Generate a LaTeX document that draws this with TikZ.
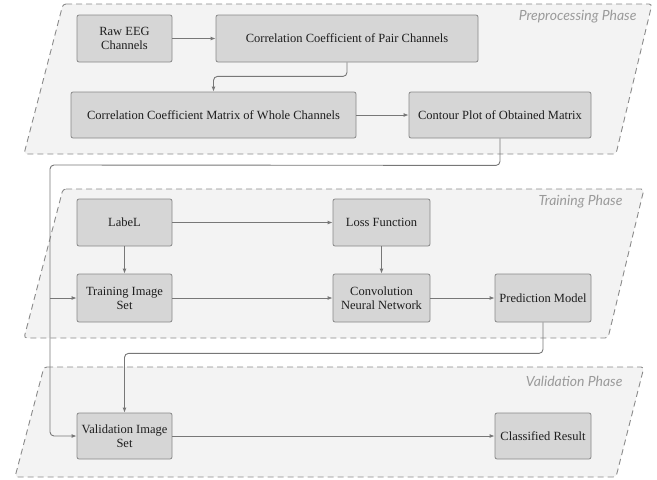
\documentclass[tikz,border=0pt]{standalone}
\usepackage{fontspec}
\setmainfont{Liberation Serif}
\newfontfamily\phasefont{Lato}
\usepackage{xcolor}
\usepackage{tikz}
\usetikzlibrary{arrows.meta, positioning, calc}
\definecolor{boxfill}{HTML}{D6D6D6}
\definecolor{boxedge}{HTML}{888888}
\definecolor{phasefill}{HTML}{F3F3F3}
\definecolor{phaseedge}{HTML}{8A8A8A}
\definecolor{linegray}{HTML}{777777}
\definecolor{textgray}{HTML}{1E1E1E}
\definecolor{namegray}{HTML}{9A9A9A}

\begin{document}
\begin{tikzpicture}[x=1pt, y=-1pt,
  box/.style={draw=boxedge, fill=boxfill, rounded corners=2pt, align=center, inner sep=1pt, line width=0.8pt, text=textgray, font=\fontsize{12.5}{14}\selectfont},
  arrow/.style={-{Latex[length=5pt,width=4pt]}, draw=linegray, line width=0.9pt, rounded corners=4pt},
  phase/.style={draw=phaseedge, fill=phasefill, dash pattern=on 6pt off 4pt, line width=0.9pt, rounded corners=3pt},
  phasename/.style={anchor=east, text=namegray, font=\phasefont\itshape\fontsize{14}{16}\selectfont}
]
\useasboundingbox (0,0) rectangle (657,480);
% phase backgrounds
\draw[phase] (63,4) -- (652,4) -- (616,154) -- (24,154) -- cycle;
\draw[phase] (63,189) -- (644,189) -- (608,338) -- (24,338) -- cycle;
\draw[phase] (44,367) -- (644,367) -- (616,477) -- (15,477) -- cycle;
\node[phasename] (prename) at (640,17) {Preprocessing Phase};
\node[phasename] (trainname) at (626,202) {Training Phase};
\node[phasename] (validname) at (626,381) {Validation Phase};
% preprocessing
\node[box, minimum width=95pt, minimum height=47pt] at (124.5,38.5) (raw) {Raw EEG\\Channels};
\node[box, minimum width=262pt, minimum height=47pt] at (347,38.5) (pair) {Correlation Coefficient of Pair Channels};
\node[box, minimum width=285pt, minimum height=46pt] at (213.5,115) (matrix) {Correlation Coefficient Matrix of Whole Channels};
\node[box, minimum width=182pt, minimum height=46pt] at (500,115) (contour) {Contour Plot of Obtained Matrix};
% training
\node[box, minimum width=95pt, minimum height=47pt] at (124.5,222.5) (label) {LabeL};
\node[box, minimum width=97pt, minimum height=47pt] at (381.5,222.5) (loss) {Loss Function};
\node[box, minimum width=95pt, minimum height=48pt] at (124.5,298) (train) {Training Image\\Set};
\node[box, minimum width=97pt, minimum height=48pt] at (381.5,298) (cnn) {Convolution\\Neural Network};
\node[box, minimum width=96pt, minimum height=48pt] at (543,298) (pred) {Prediction Model};
% validation
\node[box, minimum width=95pt, minimum height=46pt] at (124.5,436) (valid) {Validation Image\\Set};
\node[box, minimum width=96pt, minimum height=46pt] at (543,436) (result) {Classified Result};
\coordinate (pairdrop) at ($(pair.south)+(0,14)$);
\coordinate (contourdrop) at ($(contour.south)+(0,27)$);
\coordinate (leftrail) at (50,165);
\coordinate (preddrop) at ($(pred.south)+(0,31)$);
\draw[arrow] (raw.east) -- (pair.west);
\draw[arrow] (pair.south) -- (pairdrop) -| (matrix.north);
\draw[arrow] (matrix.east) -- (contour.west);
\draw[arrow] (contour.south) -- (contourdrop) -- (leftrail) |- (valid.west);
\draw[arrow] (leftrail |- train.west) -- (train.west);
\draw[arrow] (label.east) -- (loss.west);
\draw[arrow] (label.south) -- (train.north);
\draw[arrow] (loss.south) -- (cnn.north);
\draw[arrow] (train.east) -- (cnn.west);
\draw[arrow] (cnn.east) -- (pred.west);
\draw[arrow] (pred.south) -- (preddrop) -| (valid.north);
\draw[arrow] (valid.east) -- (result.west);
\end{tikzpicture}
\end{document}
